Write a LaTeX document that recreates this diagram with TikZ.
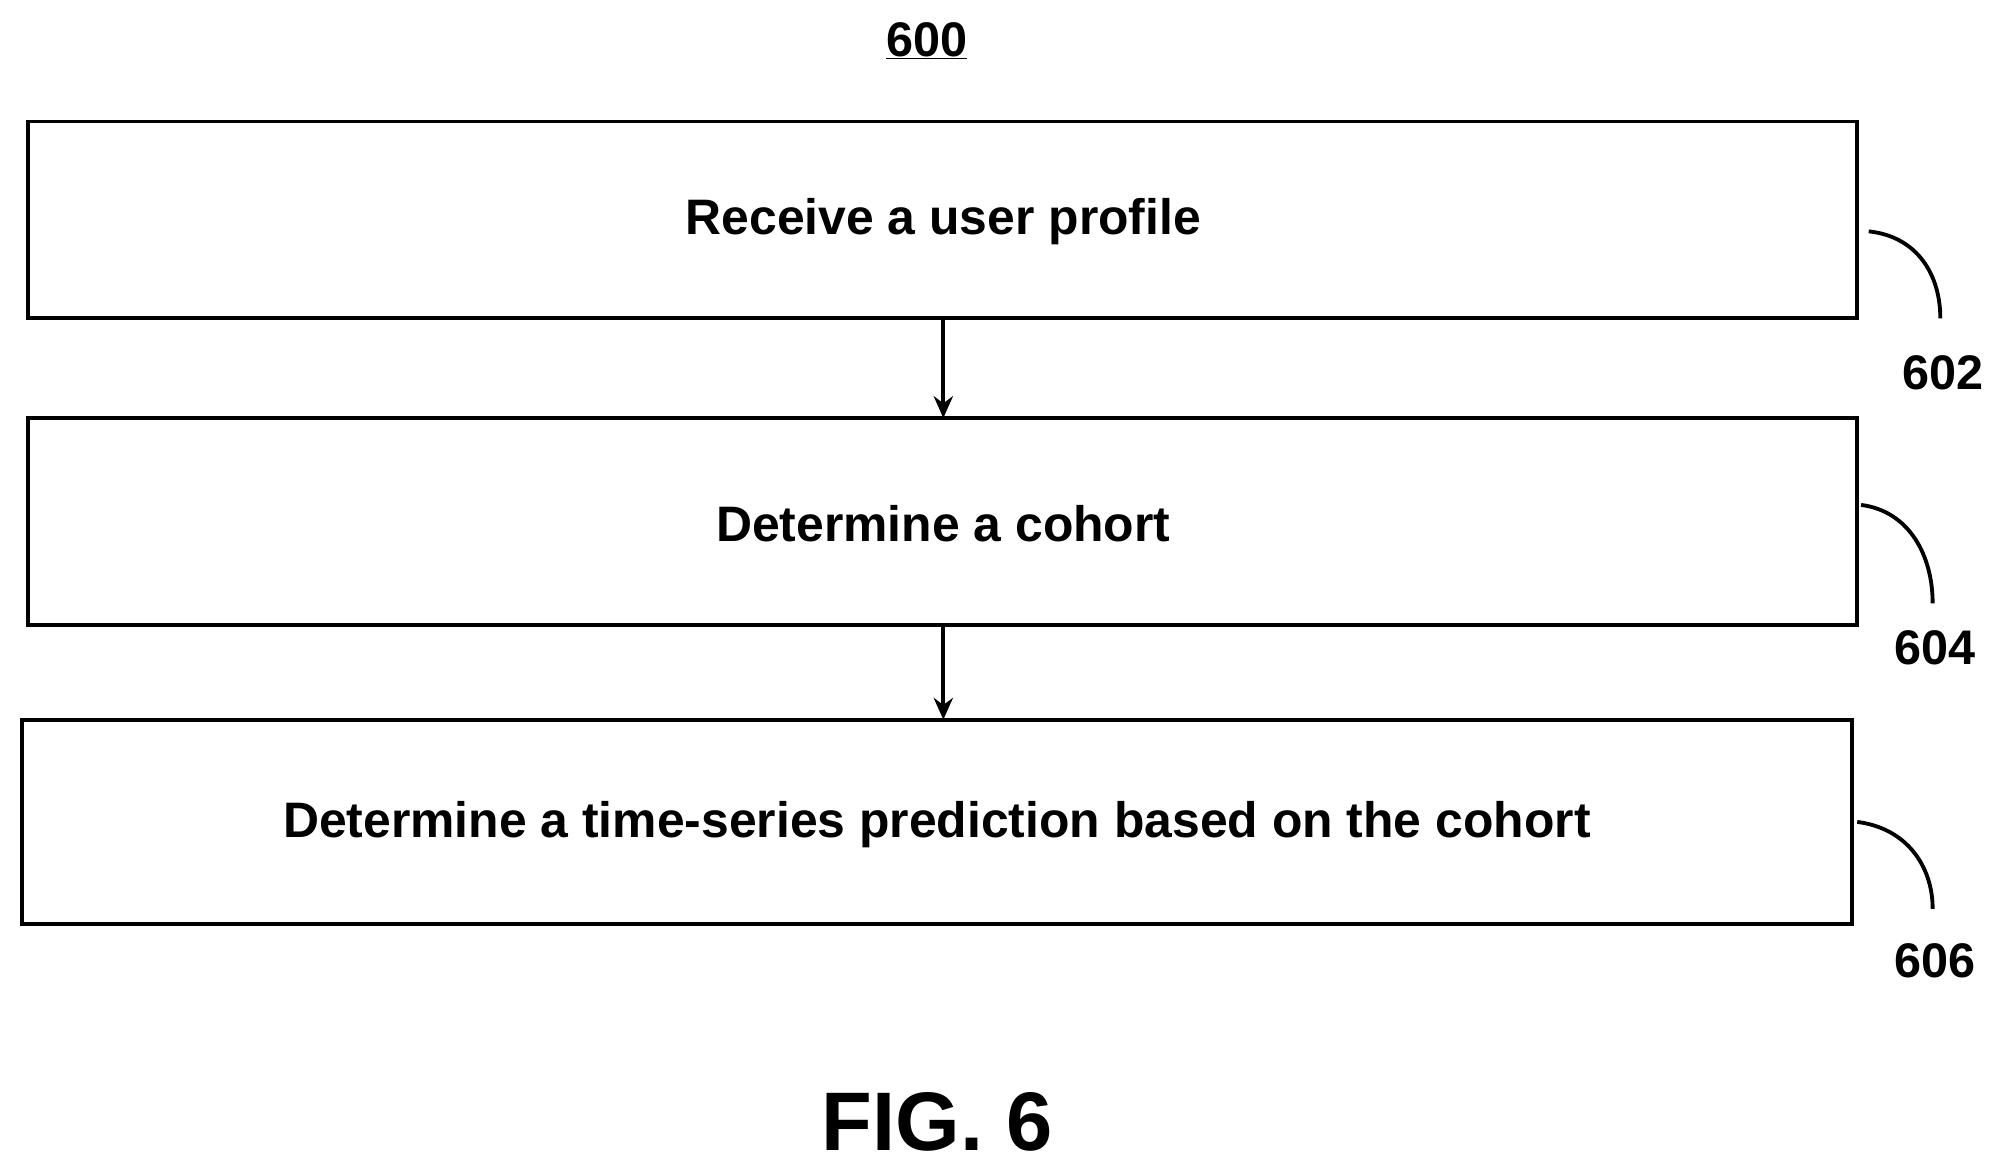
\documentclass[tikz,border=0pt]{standalone}
\usepackage{fontspec}
\setmainfont{Liberation Sans}
\usetikzlibrary{arrows.meta}
\begin{document}
\begin{tikzpicture}[x=1pt,y=-1pt,
  box/.style={draw,line width=3pt,minimum width=0,inner sep=0},
  txt/.style={font=\fontsize{39}{46}\selectfont\bfseries},
  lab/.style={font=\fontsize{38}{44}\selectfont\bfseries},
  arr/.style={line width=3pt,-{Stealth[length=17pt,width=15pt]}},
  lead/.style={line width=3pt}]
\useasboundingbox (0,0) rectangle (1560,914);
\draw[box] (22,95) rectangle (1453,249);
\draw[box] (22,327) rectangle (1453,489);
\draw[box] (17,563) rectangle (1449,723);
\node[txt] (t1) at (738,173) {Receive a user profile};
\node[txt] (t2) at (738,410) {Determine a cohort};
\node[txt] (t3) at (733,645) {Determine a time-series prediction based on the cohort};
\coordinate (a1) at (738,249); \coordinate (b1) at (738,327);
\coordinate (a2) at (738,489); \coordinate (b2) at (738,563);
\draw[arr] (a1) -- (b1);
\draw[arr] (a2) -- (b2);
\node[lab] (n600) at (725,32) {\underline{600}};
\node[lab] (n602) at (1520,292) {602};
\node[lab] (n604) at (1514,507) {604};
\node[lab] (n606) at (1514,752) {606};
\draw[lead] (1462,181) .. controls (1500,185) and (1518,215) .. (1518,249);
\draw[lead] (1456,395) .. controls (1494,400) and (1512,435) .. (1512,472);
\draw[lead] (1453,643) .. controls (1492,648) and (1512,678) .. (1512,711);
\node[font=\fontsize{65}{75}\selectfont\bfseries] (fig) at (733,878) {FIG. 6};
\end{tikzpicture}
\end{document}
